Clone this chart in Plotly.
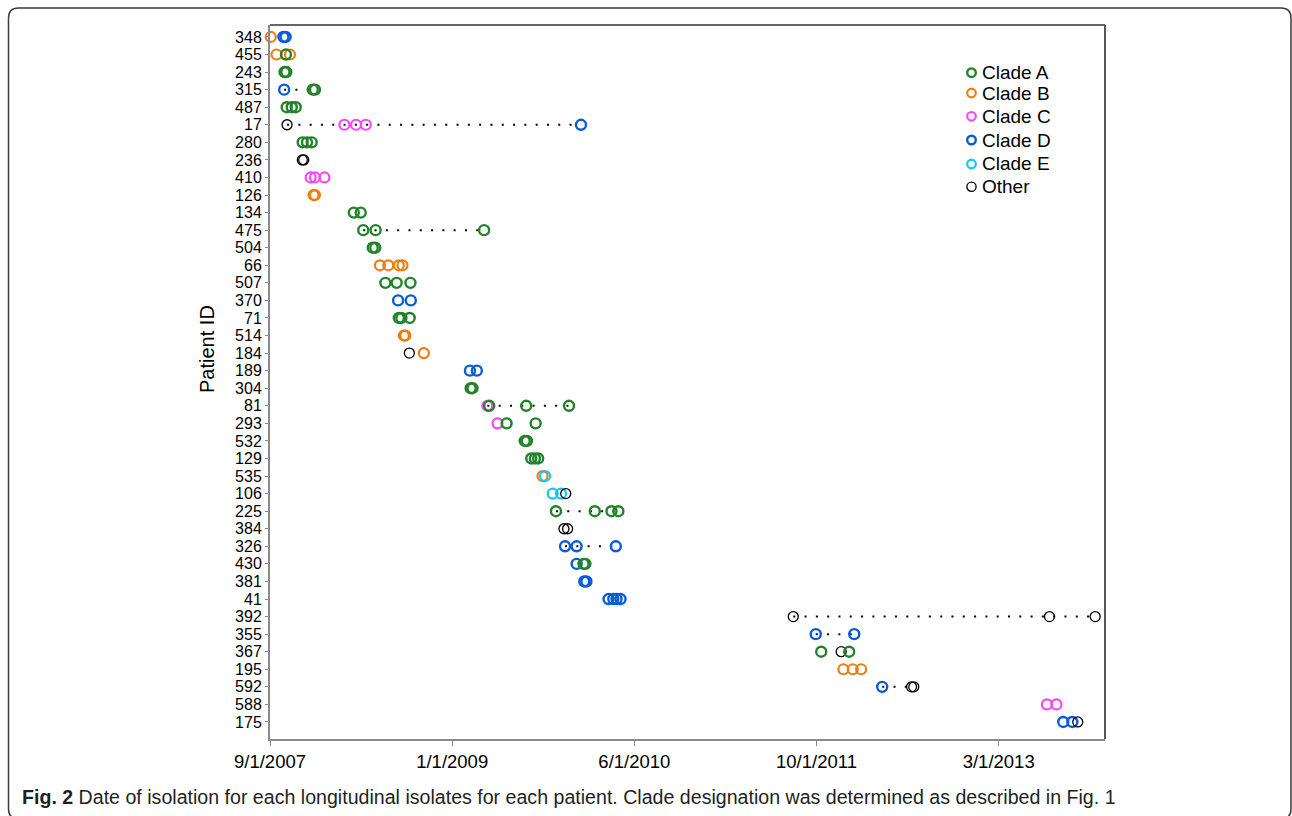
import plotly.graph_objects as go

# Patient rows, top to bottom
PATIENTS = ['348', '455', '243', '315', '487', '17', '280', '236', '410', '126',
            '134', '475', '504', '66', '507', '370', '71', '514', '184', '189',
            '304', '81', '293', '532', '129', '535', '106', '225', '384', '326',
            '430', '381', '41', '392', '355', '367', '195', '592', '588', '175']

# Patients whose isolates are joined by a dotted line
LINKED = ['315', '17', '475', '81', '225', '326', '392', '355', '592']

CLADE_A_ID = ['455', '243', '243', '315', '315', '487', '487', '487', '280', '280', '280',
              '134', '134', '475', '475', '475', '504', '504', '507', '507', '507',
              '71', '71', '71', '304', '304', '81', '81', '81', '293', '293', '532', '532',
              '129', '129', '129', '225', '225', '225', '225', '430', '430', '367', '367']
CLADE_A_DATE = ['2007-10-15', '2007-10-11', '2007-10-16', '2007-12-28', '2008-01-03',
                '2007-10-17', '2007-10-31', '2007-11-11', '2007-11-30', '2007-12-12', '2007-12-25',
                '2008-04-19', '2008-05-08', '2008-05-15', '2008-06-18', '2009-04-13',
                '2008-06-10', '2008-06-17', '2008-07-15', '2008-08-15', '2008-09-22',
                '2008-08-21', '2008-08-28', '2008-09-20', '2009-03-07', '2009-03-12',
                '2009-04-27', '2009-08-07', '2009-12-03', '2009-06-14', '2009-09-02',
                '2009-08-03', '2009-08-09', '2009-08-21', '2009-08-31', '2009-09-09',
                '2009-10-28', '2010-02-12', '2010-03-30', '2010-04-18',
                '2010-01-12', '2010-01-17', '2011-10-29', '2012-01-14']

CLADE_B_ID = ['348', '455', '455', '126', '126', '66', '66', '66', '66', '514', '514',
              '184', '535', '195', '195', '195']
CLADE_B_DATE = ['2007-09-03', '2007-09-19', '2007-10-26', '2007-12-30', '2008-01-03',
                '2008-06-30', '2008-07-23', '2008-08-21', '2008-08-31', '2008-09-04', '2008-09-08',
                '2008-10-29', '2009-09-21', '2011-12-29', '2012-01-24', '2012-02-16']

CLADE_C_ID = ['17', '17', '17', '410', '410', '410', '81', '293', '588', '588']
CLADE_C_DATE = ['2008-03-24', '2008-04-25', '2008-05-22', '2007-12-22', '2008-01-03',
                '2008-01-29', '2009-04-22', '2009-05-20', '2013-07-12', '2013-08-07']

CLADE_D_ID = ['348', '348', '315', '17', '370', '370', '189', '189', '326', '326', '326',
              '430', '381', '381', '41', '41', '41', '41', '355', '355', '592', '175', '175']
CLADE_D_DATE = ['2007-10-08', '2007-10-14', '2007-10-10', '2010-01-05', '2008-08-19',
                '2008-09-23', '2009-03-05', '2009-03-24', '2009-11-22', '2009-12-24',
                '2010-04-11', '2009-12-24', '2010-01-14', '2010-01-20', '2010-03-22',
                '2010-04-04', '2010-04-13', '2010-04-24', '2011-10-14', '2012-01-28',
                '2012-04-14', '2013-08-26', '2013-09-20']

CLADE_E_ID = ['535', '106', '106']
CLADE_E_DATE = ['2009-09-28', '2009-10-19', '2009-11-11']

OTHER_ID = ['17', '236', '236', '184', '106', '384', '384', '392', '392', '392',
            '367', '592', '592', '175']
OTHER_DATE = ['2007-10-18', '2007-11-29', '2007-12-03', '2008-09-19', '2009-11-24',
              '2009-11-19', '2009-11-29', '2011-08-13', '2013-07-19', '2013-11-22',
              '2011-12-23', '2012-07-04', '2012-07-10', '2013-10-05']

TICK_VALS = ['2007-09-01', '2009-01-15', '2010-06-01', '2011-10-16', '2013-03-01']
TICK_TEXT = ['9/1/2007', '1/1/2009', '6/1/2010', '10/1/2011', '3/1/2013']

FONT = 'Liberation Sans, Arial, Helvetica, sans-serif'

# plot area in pixels
W, H = 1292, 816
L, R, T, B = 270, 1105, 25, 739


def px(x):
    return (x - L) / (R - L)


def py(y):
    return (B - y) / (B - T)


# name, ids, dates, colour, line width, legend row y (px); drawn in this order
series = [
    ('Clade D', CLADE_D_ID, CLADE_D_DATE, '#0a5bd9', 2.4, 140),
    ('Clade C', CLADE_C_ID, CLADE_C_DATE, '#fb45f5', 2.2, 116.3),
    ('Clade B', CLADE_B_ID, CLADE_B_DATE, '#ee7d10', 2.2, 93),
    ('Clade E', CLADE_E_ID, CLADE_E_DATE, '#12c8f5', 2.2, 164),
    ('Other', OTHER_ID, OTHER_DATE, '#000000', 1.3, 186.7),
    ('Clade A', CLADE_A_ID, CLADE_A_DATE, '#23832a', 2.4, 72.7),
]

fig = go.Figure()

# dotted connectors from first to last isolate
all_pts = {}
for s in series:
    for i, d in zip(s[1], s[2]):
        all_pts.setdefault(i, []).append(d)
lx, ly = [], []
for pid in LINKED:
    ds = sorted(all_pts[pid])
    lx += [ds[0], ds[-1], None]
    ly += [pid, pid, None]
fig.add_trace(go.Scatter(
    x=lx, y=ly, mode='lines',
    line=dict(color='black', width=2, dash='2px,9.3px'),
    showlegend=False, hoverinfo='skip', cliponaxis=False,
))

shapes = []
annotations = []
for name, ids, dates, color, lw, ly_px in series:
    fig.add_trace(go.Scatter(
        x=dates, y=ids, mode='markers', name=name,
        marker=dict(symbol='circle-open', size=10, color=color,
                    line=dict(color=color, width=lw)),
        cliponaxis=False, showlegend=False,
    ))
    # legend entry: small open circle + label
    r = 4.3 if name != 'Other' else 4.6
    shapes.append(dict(
        type='circle', xref='paper', yref='paper',
        xsizemode='pixel', ysizemode='pixel',
        xanchor=px(971.5), yanchor=py(ly_px),
        x0=-r, x1=r, y0=-r, y1=r,
        line=dict(color=color, width=lw),
    ))
    annotations.append(dict(
        text=name, showarrow=False, xref='paper', yref='paper',
        x=px(979.5), y=py(ly_px), xanchor='left', yanchor='middle',
        font=dict(size=19, family=FONT, color='black'),
    ))

# rounded frame around the whole figure panel
fx0, fx1, fy0, fy1, rr = 8.5, 1291, 8, 819, 10
frame = (f'M {px(fx0)},{py(fy0 + rr)} L {px(fx0)},{py(fy1 - rr)} '
         f'Q {px(fx0)},{py(fy1)} {px(fx0 + rr)},{py(fy1)} '
         f'L {px(fx1 - rr)},{py(fy1)} Q {px(fx1)},{py(fy1)} {px(fx1)},{py(fy1 - rr)} '
         f'L {px(fx1)},{py(fy0 + rr)} Q {px(fx1)},{py(fy0)} {px(fx1 - rr)},{py(fy0)} '
         f'L {px(fx0 + rr)},{py(fy0)} Q {px(fx0)},{py(fy0)} {px(fx0)},{py(fy0 + rr)} Z')

shapes += [
    dict(type='line', xref='paper', yref='paper', x0=0, x1=1, y0=1, y1=1,
         line=dict(color='#333333', width=1.5)),
    dict(type='line', xref='paper', yref='paper', x0=1, x1=1, y0=0, y1=1,
         line=dict(color='#555555', width=2)),
    dict(type='path', xref='paper', yref='paper', path=frame,
         line=dict(color='#3a3a3a', width=1.5)),
]

annotations += [
    dict(text='Patient ID', textangle=-90, showarrow=False,
         xref='paper', yref='paper', x=px(207), y=py(349),
         xanchor='center', yanchor='middle',
         font=dict(size=20, family=FONT, color='black')),
    dict(text='<b>Fig. 2</b> Date of isolation for each longitudinal isolates for each patient. '
              'Clade designation was determined as described in Fig. 1',
         showarrow=False, xref='paper', yref='paper',
         x=px(20), y=py(797), xanchor='left', yanchor='middle',
         font=dict(size=19.6, color='#231f20', family=FONT)),
]

fig.update_layout(
    width=W, height=H,
    margin=dict(l=L, r=W - R, t=T, b=H - B),
    paper_bgcolor='white', plot_bgcolor='white',
    font=dict(family=FONT, color='black'),
    showlegend=False,
    xaxis=dict(
        type='date', range=['2007-09-01', '2013-12-19'],
        tickvals=TICK_VALS, ticktext=TICK_TEXT,
        showgrid=False, zeroline=False,
        showline=True, linecolor='#8a8a8a', linewidth=2,
        ticks='outside', ticklen=5, tickcolor='#8a8a8a', tickwidth=1,
        tickfont=dict(size=18.5, family=FONT, color='black'),
    ),
    yaxis=dict(
        type='category', categoryorder='array', categoryarray=PATIENTS,
        range=[39.97, -0.68],
        tickmode='array', tickvals=PATIENTS, ticktext=PATIENTS,
        showgrid=False, zeroline=False,
        showline=True, linecolor='#8a8a8a', linewidth=2,
        ticks='outside', ticklen=3, tickcolor='#8a8a8a', tickwidth=1,
        tickfont=dict(size=16, family=FONT, color='black'),
    ),
    shapes=shapes,
    annotations=annotations,
)

# the page's default body margin would shift the figure by 8px
fig.write_html('out.html', config={'displayModeBar': False},
               post_script="document.body.style.margin='0';")
